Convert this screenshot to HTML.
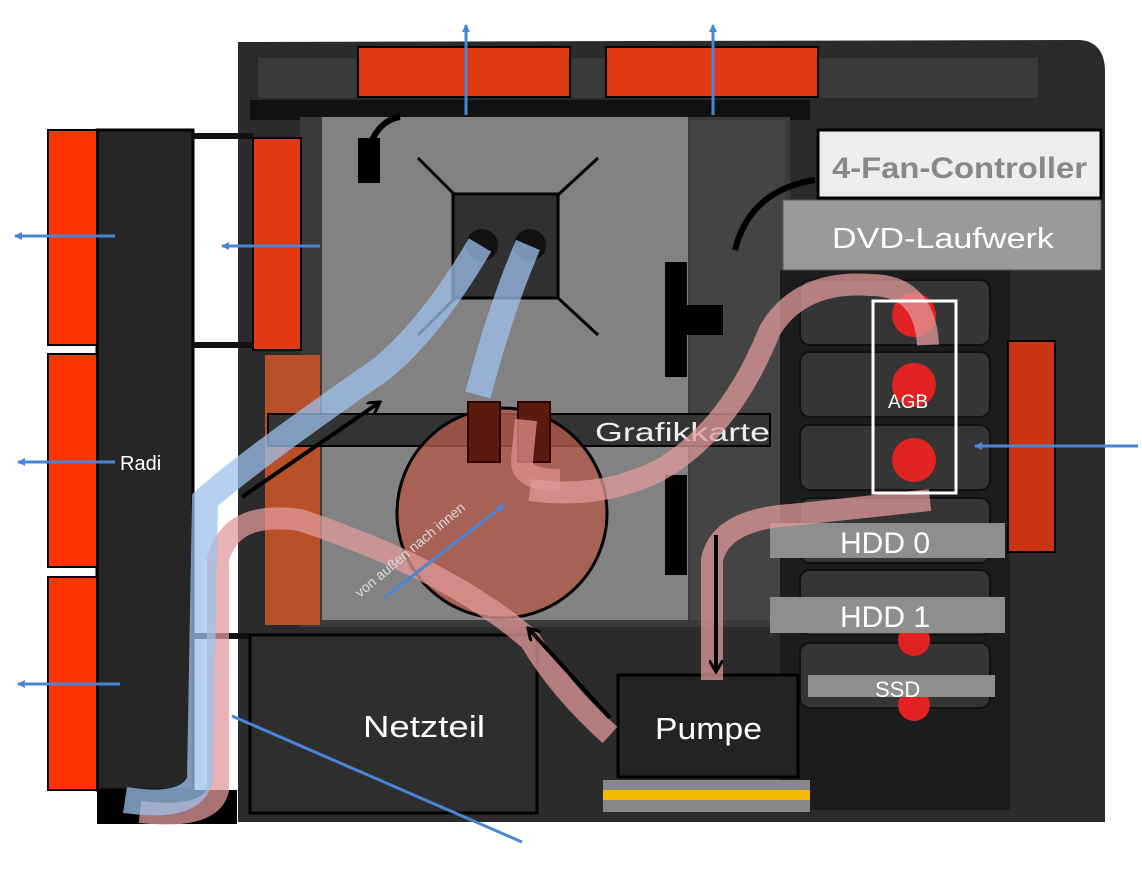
<!DOCTYPE html>
<html><head><meta charset="utf-8"><style>
html,body{margin:0;padding:0;background:#fff;width:1142px;height:893px;overflow:hidden}
svg text{font-family:"Liberation Sans",sans-serif}
</style></head><body>
<svg width="1142" height="893" viewBox="0 0 1142 893" xmlns="http://www.w3.org/2000/svg">
<defs>
<marker id="ab" markerWidth="8" markerHeight="8" refX="7" refY="4" orient="auto" markerUnits="userSpaceOnUse"><path d="M0,0 L8,4 L0,8 Z" fill="#4a86d8"/></marker>
<marker id="ak" markerWidth="14" markerHeight="14" refX="12" refY="7" orient="auto" markerUnits="userSpaceOnUse"><path d="M0,0 L12,7 L0,14" fill="none" stroke="#000" stroke-width="3"/></marker>
</defs>
<rect width="1142" height="893" fill="#fff"/>
<path d="M238,42 L1080,40 Q1104,42 1105,70 L1105,822 L238,822 Z" fill="#2b2b2b"/>
<rect x="258" y="58" width="780" height="40" fill="#3a3a3a"/>
<rect x="250" y="100" width="560" height="20" fill="#111"/>
<rect x="300" y="117" width="490" height="510" fill="#3a3a3a"/>
<rect x="690" y="120" width="95" height="500" fill="#444"/>
<rect x="780" y="270" width="230" height="540" fill="#1c1c1c"/>
<g fill="#353535" stroke="#111" stroke-width="2">
<rect x="800" y="280" width="190" height="65" rx="10"/>
<rect x="800" y="352" width="190" height="65" rx="10"/>
<rect x="800" y="425" width="190" height="65" rx="10"/>
<rect x="800" y="498" width="190" height="65" rx="10"/>
<rect x="800" y="570" width="190" height="65" rx="10"/>
<rect x="800" y="643" width="190" height="65" rx="10"/>
</g>
<g fill="#e02222"><circle cx="914" cy="315" r="22"/><circle cx="914" cy="385" r="22"/><circle cx="914" cy="460" r="22"/><circle cx="914" cy="640" r="16"/><circle cx="914" cy="705" r="16"/></g>
<rect x="265" y="355" width="55" height="270" fill="#b8502a"/>
<rect x="322" y="117" width="366" height="503" fill="#828282"/>
<rect x="358" y="138" width="22" height="45" fill="#000"/>
<path d="M368,150 Q378,120 400,117" stroke="#000" stroke-width="6" fill="none"/>
<g stroke="#000" stroke-width="3"><line x1="418" y1="158" x2="455" y2="195"/><line x1="598" y1="158" x2="558" y2="195"/><line x1="418" y1="335" x2="455" y2="298"/><line x1="598" y1="335" x2="558" y2="298"/></g>
<rect x="453" y="194" width="105" height="104" fill="#303030" stroke="#000" stroke-width="3"/>
<circle cx="482" cy="245" r="16" fill="#111"/><circle cx="530" cy="245" r="16" fill="#111"/>
<rect x="665" y="262" width="22" height="115" fill="#000"/>
<rect x="665" y="475" width="22" height="100" fill="#000"/>
<rect x="678" y="305" width="45" height="30" fill="#000"/>
<path d="M735,250 Q750,190 815,180" stroke="#000" stroke-width="6" fill="none"/>
<rect x="268" y="414" width="502" height="32" fill="#333" stroke="#000" stroke-width="2"/>
<text x="595" y="441" font-size="26" fill="#eee" textLength="175" lengthAdjust="spacingAndGlyphs">Grafikkarte</text>
<rect x="97" y="130" width="96" height="660" fill="#262626" stroke="#000" stroke-width="3"/>
<rect x="97" y="790" width="140" height="34" fill="#000"/>
<g fill="#ff3300" stroke="#000" stroke-width="2">
<rect x="48" y="130" width="49" height="215"/><rect x="48" y="354" width="49" height="213"/><rect x="48" y="577" width="49" height="213"/>
<rect x="358" y="47" width="212" height="50" fill="#e03a12"/><rect x="606" y="47" width="212" height="50" fill="#e03a12"/>
<rect x="253" y="138" width="48" height="212" fill="#e03a12"/>
<rect x="1008" y="341" width="47" height="211" fill="#cc3311"/>
</g>
<g stroke="#111" stroke-width="6"><line x1="193" y1="136" x2="253" y2="136"/><line x1="193" y1="345" x2="253" y2="345"/><line x1="193" y1="636" x2="250" y2="636"/></g>
<text x="120" y="470" font-size="20" fill="#fff">Radi</text>
<rect x="818" y="130" width="283" height="68" fill="#eee" stroke="#000" stroke-width="3"/>
<text x="832" y="178" font-size="30" fill="#888" font-weight="bold" textLength="255" lengthAdjust="spacingAndGlyphs">4-Fan-Controller</text>
<rect x="783" y="200" width="318" height="70" fill="#9a9a9a" stroke="#555" stroke-width="1"/>
<text x="832" y="248" font-size="29" fill="#fff" textLength="222" lengthAdjust="spacingAndGlyphs">DVD-Laufwerk</text>
<rect x="770" y="523" width="235" height="35" fill="#8e8e8e"/>
<text x="840" y="553" font-size="30" fill="#fff">HDD 0</text>
<rect x="770" y="597" width="235" height="36" fill="#8e8e8e"/>
<text x="840" y="627" font-size="30" fill="#fff">HDD 1</text>
<rect x="808" y="675" width="187" height="22" fill="#8e8e8e"/>
<text x="875" y="697" font-size="22" fill="#fff">SSD</text>
<rect x="250" y="635" width="287" height="178" fill="#2e2e2e" stroke="#000" stroke-width="3"/>
<text x="363" y="737" font-size="31" fill="#fff" textLength="122" lengthAdjust="spacingAndGlyphs">Netzteil</text>
<rect x="618" y="675" width="180" height="102" fill="#232323" stroke="#000" stroke-width="3"/>
<text x="655" y="739" font-size="31" fill="#fff" textLength="107" lengthAdjust="spacingAndGlyphs">Pumpe</text>
<rect x="603" y="780" width="207" height="32" fill="#888"/>
<rect x="603" y="790" width="207" height="10" fill="#f5b800"/>
<circle cx="502" cy="513" r="105" fill="#b05a4a" fill-opacity="0.8" stroke="#000" stroke-width="3"/>
<rect x="468" y="402" width="32" height="60" fill="#5a1a10" stroke="#300" stroke-width="2"/>
<rect x="518" y="402" width="32" height="60" fill="#5a1a10" stroke="#300" stroke-width="2"/>
<g fill="none" stroke-linecap="butt" stroke-opacity="0.75">
<path d="M560,480 Q520,480 522,460 L526,420" stroke="#e08f8f" stroke-width="22"/>
<path d="M530,490 Q600,500 660,470 Q730,430 770,330 Q800,280 870,285 Q925,285 928,345" stroke="#e29a9a" stroke-width="22"/>
<path d="M712,680 L712,560 Q720,520 790,515 L930,500" stroke="#e29a9a" stroke-width="22"/>
<path d="M610,735 Q560,690 530,640 Q450,570 300,520 Q230,510 218,560 L218,790 Q210,820 140,812" stroke="#e29a9a" stroke-width="22"/>
<path d="M480,245 Q430,330 380,370 Q250,460 205,500 L200,780 Q190,810 125,800" stroke="#9ec0ec" stroke-width="26"/>
<path d="M528,245 Q500,310 478,395" stroke="#9ec0ec" stroke-width="26"/>
</g>
<text transform="translate(360,598) rotate(-40)" font-size="14" fill="#ddd">von außen nach innen</text>
<rect x="873" y="301" width="83" height="192" fill="none" stroke="#fff" stroke-width="3"/>
<text x="888" y="408" font-size="19" fill="#fff">AGB</text>
<g stroke="#000" stroke-width="4" fill="none">
<line x1="242" y1="497" x2="380" y2="402" marker-end="url(#ak)"/>
<line x1="610" y1="718" x2="528" y2="628" marker-end="url(#ak)"/>
<line x1="716" y1="535" x2="716" y2="672" marker-end="url(#ak)"/>
</g>
<g stroke="#4a86d8" stroke-width="3">
<line x1="466" y1="115" x2="466" y2="25" marker-end="url(#ab)"/>
<line x1="713" y1="115" x2="713" y2="25" marker-end="url(#ab)"/>
<line x1="115" y1="236" x2="15" y2="236" marker-end="url(#ab)"/>
<line x1="320" y1="246" x2="222" y2="246" marker-end="url(#ab)"/>
<line x1="115" y1="462" x2="18" y2="462" marker-end="url(#ab)"/>
<line x1="120" y1="684" x2="18" y2="684" marker-end="url(#ab)"/>
<line x1="1138" y1="446" x2="975" y2="446" marker-end="url(#ab)"/>
<line x1="384" y1="598" x2="504" y2="505" marker-end="url(#ab)"/>
<line x1="232" y1="716" x2="522" y2="842"/>
</g>
</svg>
</body></html>
